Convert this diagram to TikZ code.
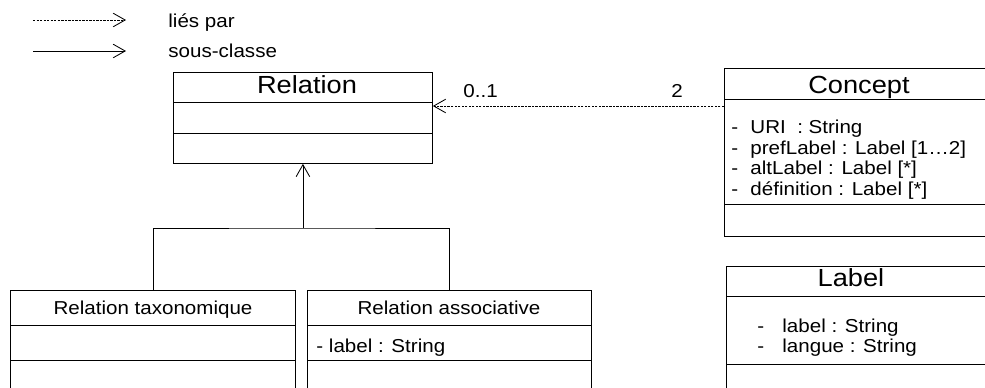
\documentclass[tikz,border=0pt]{standalone}
\usepackage{fontspec}
\setmainfont{Liberation Sans}[FakeStretch=1.10]
\usetikzlibrary{arrows.meta, positioning}

\begin{document}
\begin{tikzpicture}[x=0.25mm, y=-0.25mm, line width=0.6pt]
    % Setup the styles for the classes and the links
    \tikzset{class box/.style={draw, rectangle, anchor=north west, inner sep=0pt},
             class title/.style={anchor=base, inner sep=0pt, font=\fontsize{17.6}{21}\selectfont},
             attribute/.style={anchor=base west, inner sep=0pt, font=\fontsize{13.3}{16}\selectfont},
             link/.style={dash pattern=on 1.7pt off 0.8pt, -{Straight Barb[length=3mm, width=3.4mm]}},
             subclass/.style={-{Straight Barb[length=3mm, width=3.4mm]}}}

    \useasboundingbox (0,0) rectangle (985,387);
    \clip (0,0) rectangle (985,387);

    % Legend
    \coordinate (link start) at (33,20);
    \coordinate (sub start)  at (33,51);
    \node[attribute] at (168,27) (lies)  {liés par};
    \node[attribute] at (168,57) (sous)  {sous-classe};
    \draw[link]     (link start) -- (126,20);
    \draw[subclass] (sub start)  -- (126,51);

    % Draw the classes
    \node[class box, minimum width=64.75mm, minimum height=22.75mm] at (173,72)  (relation) {};
    \node[class box, minimum width=72mm,    minimum height=42mm]    at (724,68)  (concept)  {};
    \node[class box, minimum width=72mm,    minimum height=40mm]    at (726,266) (label)    {};
    \node[class box, minimum width=71.25mm, minimum height=32.5mm]  at (10,290)  (taxo)     {};
    \node[class box, minimum width=71mm,    minimum height=32.5mm]  at (307,290) (assoc)    {};

    % Compartments
    \draw (relation.west |- 0,102) -- (relation.east |- 0,102)
          (relation.west |- 0,133) -- (relation.east |- 0,133)
          (concept.west |- 0,99)   -- (concept.east |- 0,99)
          (concept.west |- 0,204)  -- (concept.east |- 0,204)
          (label.west |- 0,296)    -- (label.east |- 0,296)
          (label.west |- 0,364)    -- (label.east |- 0,364)
          (taxo.west |- 0,325)     -- (taxo.east |- 0,325)
          (taxo.west |- 0,360)     -- (taxo.east |- 0,360)
          (assoc.west |- 0,325)    -- (assoc.east |- 0,325)
          (assoc.west |- 0,360)    -- (assoc.east |- 0,360);

    % Titles
    \node[class title] at (307,93)  (relation title) {Relation};
    \node[class title] at (859,93)  (concept title)  {Concept};
    \node[class title] at (851,286) (label title)    {Label};
    \node[attribute, anchor=base] at (153,314) (taxo title)  {Relation taxonomique};
    \node[attribute, anchor=base] at (449,314) (assoc title) {Relation associative};

    % Attributes
    \node[attribute] at (731,133) (uri)   {\makebox[4.75mm][l]{-}URI~ : String};
    \node[attribute] at (731,154) (pref)  {\makebox[4.75mm][l]{-}prefLabel : Label [1…2]};
    \node[attribute] at (731,174) (alt)   {\makebox[4.75mm][l]{-}altLabel : Label [*]};
    \node[attribute] at (731,195) (def)   {\makebox[4.75mm][l]{-}définition : Label [*]};
    \node[attribute] at (757,332) (lab)   {\makebox[6.25mm][l]{-}label : String};
    \node[attribute] at (757,352) (lang)  {\makebox[6.25mm][l]{-}langue : String};
    \node[attribute] at (316,352) (assoc label) {- label : String};

    % Connect the classes
    \draw[link] (concept.west |- 0,106) -- (relation.east |- 0,106);
    \node[attribute] at (463,97) (mult relation) {0..1};
    \node[attribute] at (671,97) (mult concept)  {2};

    \coordinate (fork) at (relation.south |- 0,228);
    \draw (taxo.north) |- (fork) -| (assoc.north);
    \draw[subclass] (fork) -- (relation.south);
\end{tikzpicture}
\end{document}
